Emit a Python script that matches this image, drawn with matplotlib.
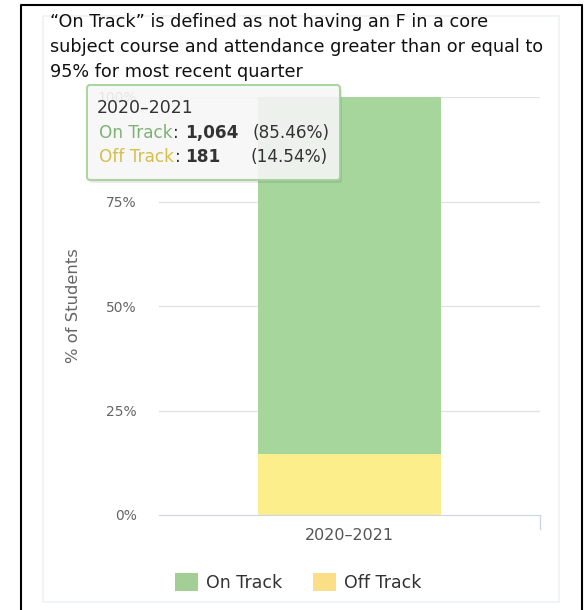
import matplotlib.pyplot as plt
from matplotlib.patches import FancyBboxPatch, Rectangle
from matplotlib.lines import Line2D

# data
categories = ["2020\u20132021"]
on_track_pct = [85.46]
off_track_pct = [14.54]
on_track_n = [1064]
off_track_n = [181]
y_ticks = [0, 25, 50, 75, 100]
y_tick_labels = ["0%", "25%", "50%", "75%", "100%"]

title = ("\u201cOn Track\u201d is defined as not having an F in a core\n"
         "subject course and attendance greater than or equal to\n"
         "95% for most recent quarter")

green = "#a6d69c"
yellow = "#fbee8b"
green_leg = "#a3cf97"
yellow_leg = "#fbdf87"

W, H = 585, 610
fig = plt.figure(figsize=(W / 100, H / 100), dpi=100)


def fx(px):
    return px / W


def fy(py):
    return 1 - py / H


# outer black frame (left, top, right)
fig.add_artist(Line2D([fx(21), fx(21), fx(582), fx(582)],
                      [0, fy(5), fy(5), 0], color="black", lw=1.5))
# faint inner panel border
fig.add_artist(Rectangle((fx(43), fy(602)), fx(559) - fx(43), fy(16) - fy(602),
                         fill=False, edgecolor="#eef2f6", lw=1.2))

fig.text(fx(50), fy(13), title, ha="left", va="top", fontsize=12.7,
         color="#111111", linespacing=1.5)

ax = fig.add_axes([fx(159), fy(515), fx(540) - fx(159), fy(97) - fy(515)])
x = list(range(len(categories)))
ax.bar(x, off_track_pct, width=0.478, color=yellow, zorder=2)
ax.bar(x, on_track_pct, width=0.478, bottom=off_track_pct, color=green, zorder=2)

ax.set_xlim(-0.5, 0.5)
ax.set_ylim(0, 100)
ax.set_yticks(y_ticks)
ax.set_yticklabels(y_tick_labels)
ax.set_xticks(x)
ax.set_xticklabels(categories)
ax.tick_params(axis="y", length=0, pad=16, labelsize=10, labelcolor="#666666")
ax.tick_params(axis="x", length=0, pad=9, labelsize=11.5, labelcolor="#555555")
for yt in y_ticks[1:]:
    ax.axhline(yt, color="#e3e3e3", lw=1, zorder=1)
for s in ["top", "right", "left"]:
    ax.spines[s].set_visible(False)
ax.spines["bottom"].set_color("#ccd6eb")
ax.spines["bottom"].set_zorder(3)
ax.plot([0.5, 0.5], [0, -3.3], color="#ccd6eb", lw=1, clip_on=False)
ax.set_ylabel("% of Students", fontsize=11.8, color="#666666", labelpad=12)

# tooltip
tip = FancyBboxPatch((fx(87), fy(180)), fx(340) - fx(87), fy(85) - fy(180),
                     boxstyle="round,pad=0,rounding_size=0.005",
                     facecolor="#f9f9f9", edgecolor="#a3cf97", lw=1.5,
                     alpha=0.88, zorder=10)
shadow = FancyBboxPatch((fx(89), fy(183)), fx(340) - fx(87), fy(85) - fy(180),
                        boxstyle="round,pad=0,rounding_size=0.005",
                        facecolor="#000000", edgecolor="none", alpha=0.08,
                        zorder=9)
fig.add_artist(shadow)
fig.add_artist(tip)
fs = 12.2
fig.text(fx(97), fy(108), categories[0], fontsize=12.5, color="#333333",
         va="center", zorder=11)
fig.text(fx(99), fy(133), "On Track", fontsize=fs, color="#7fb174",
         va="center", zorder=11)
fig.text(fx(173), fy(133), ":", fontsize=fs, color="#333333",
         va="center", zorder=11)
fig.text(fx(185), fy(133), f"{on_track_n[0]:,}", fontsize=fs, color="#333333",
         fontweight="bold", va="center", zorder=11)
fig.text(fx(253), fy(133), f"({on_track_pct[0]:.2f}%)", fontsize=fs,
         color="#333333", va="center", zorder=11)
fig.text(fx(99), fy(157), "Off Track", fontsize=fs, color="#d4bf4a",
         va="center", zorder=11)
fig.text(fx(175), fy(157), ":", fontsize=fs, color="#333333",
         va="center", zorder=11)
fig.text(fx(185), fy(157), f"{off_track_n[0]:,}", fontsize=fs, color="#333333",
         fontweight="bold", va="center", zorder=11)
fig.text(fx(251), fy(157), f"({off_track_pct[0]:.2f}%)", fontsize=fs,
         color="#333333", va="center", zorder=11)

# legend
fig.add_artist(Rectangle((fx(175), fy(591)), fx(198) - fx(175), fy(573) - fy(591),
                         facecolor=green_leg, edgecolor="none"))
fig.text(fx(206), fy(583), "On Track", fontsize=12.5, color="#333333", va="center")
fig.add_artist(Rectangle((fx(313), fy(591)), fx(336) - fx(313), fy(573) - fy(591),
                         facecolor=yellow_leg, edgecolor="none"))
fig.text(fx(344), fy(583), "Off Track", fontsize=12.5, color="#333333", va="center")

fig.savefig("out.png", dpi=100)
